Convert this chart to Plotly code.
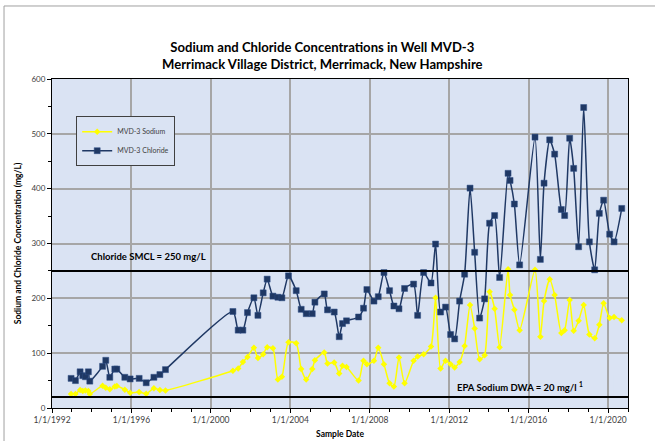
import plotly.graph_objects as go

# ---- data ----
sample_dates = [
    "1992-12-17", "1993-03-07", "1993-06-01", "1993-07-20", "1993-09-06", "1993-10-31", "1993-11-26",
    "1994-07-19", "1994-09-16", "1994-11-29", "1995-03-01", "1995-04-07", "1995-09-01", "1995-12-08",
    "1996-05-22", "1996-09-28", "1997-02-17", "1997-06-07", "1997-09-18",
    "2001-02-09", "2001-05-17", "2001-08-11", "2001-11-04", "2002-03-02", "2002-05-15", "2002-08-20",
    "2002-11-01", "2003-02-15", "2003-05-17", "2003-07-30", "2003-11-28", "2004-04-18", "2004-07-19",
    "2004-10-19", "2005-02-07", "2005-03-28", "2005-09-16", "2005-11-15", "2006-03-18", "2006-06-18",
    "2006-08-18", "2006-10-30", "2007-06-09", "2007-09-08", "2007-11-09", "2008-03-18", "2008-06-05",
    "2008-09-18", "2008-12-30", "2009-03-20", "2009-06-21", "2009-10-02", "2010-03-17", "2010-05-30",
    "2010-09-17", "2011-01-31", "2011-04-25", "2011-07-26", "2011-10-26", "2012-01-27", "2012-04-10",
    "2012-07-10", "2012-10-10", "2013-01-18", "2013-04-13", "2013-07-13", "2013-10-13", "2014-01-13",
    "2014-04-15", "2014-07-16", "2014-12-18", "2015-01-24", "2015-04-13", "2015-07-19", "2016-04-27",
    "2016-08-03", "2016-10-10", "2017-01-22", "2017-04-23", "2017-08-24", "2017-10-24", "2018-01-24",
    "2018-04-08", "2018-07-08", "2018-10-09", "2019-01-22", "2019-04-29", "2019-07-24", "2019-10-11",
    "2020-01-30", "2020-04-20", "2020-09-08",
]

chloride = [
    54, 50, 66, 59, 57, 66, 49,
    76, 87, 56, 71, 71, 56, 53,
    54, 46, 56, 61, 70,
    176, 142, 142, 174, 201, 169, 210,
    235, 204, 202, 201, 241, 214, 180,
    172, 172, 193, 208, 179, 175, 130,
    154, 159, 166, 182, 216, 195, 203,
    247, 214, 186, 181, 218, 226, 169,
    247, 228, 299, 175, 184, 134, 126,
    195, 244, 401, 284, 164, 199, 337,
    351, 238, 428, 415, 372, 261, 494,
    271, 410, 489, 463, 362, 351, 492,
    437, 294, 548, 303, 252, 355, 379,
    317, 303, 364,
]

sodium = [
    25.5, 25.5, 33, 31, 32, 31, 25.5,
    40.5, 37, 34, 39, 40, 33.5, 28,
    29, 26, 36, 33, 32,
    68, 72, 84, 93, 110, 91, 98,
    111, 109, 52, 57, 120, 118, 71,
    52, 71, 87, 101, 81, 83, 63,
    77, 75, 50, 86, 80, 86, 110,
    80, 45, 39, 92, 45, 86, 94,
    98, 112, 201, 72, 86, 80, 74,
    84, 113, 188, 145, 89, 96, 212,
    181, 111, 253, 206, 179, 142, 252,
    130, 195, 235, 206, 137, 142, 197,
    141, 159, 188, 134, 127, 152, 191,
    164, 166, 160,
]

x_tick_vals = ["1992-01-01", "1996-01-01", "2000-01-01", "2004-01-01",
               "2008-01-01", "2012-01-01", "2016-01-01", "2020-01-01"]
x_tick_text = ["1/1/1992", "1/1/1996", "1/1/2000", "1/1/2004",
               "1/1/2008", "1/1/2012", "1/1/2016", "1/1/2020"]
y_tick_vals = [0, 100, 200, 300, 400, 500, 600]

chloride_smcl = 250
sodium_dwa = 20

# ---- styling ----
FONT = "Lato"
PLOT_BG = "#DAE3F3"
GRID = "#A6A6A6"
NAVY = "#1F3864"
YELLOW = "#FFFF00"
TICK_COLOR = "#404040"

fig = go.Figure()

fig.add_trace(go.Scatter(
    x=sample_dates, y=sodium, name="MVD-3 Sodium", mode="lines+markers",
    legendgroup="na",
    line=dict(color=YELLOW, width=1.5, shape="spline", smoothing=0.6),
    marker=dict(symbol="diamond", size=5, color=YELLOW),
))
fig.add_trace(go.Scatter(
    x=sample_dates, y=chloride, name="MVD-3 Chloride", mode="lines+markers",
    legendgroup="cl",
    line=dict(color=NAVY, width=1.5, shape="spline", smoothing=0.6),
    marker=dict(symbol="square", size=6, color=NAVY, line=dict(color="#2E4F86", width=0.5)),
))

shapes = [
    # text-box backgrounds (cover gridlines, below traces)
    dict(type="rect", xref="paper", yref="y", x0=0.056, x1=0.28, y0=257, y1=297,
         fillcolor=PLOT_BG, line=dict(width=0), layer="between"),
    dict(type="rect", xref="paper", yref="y", x0=0.689, x1=0.974, y0=sodium_dwa, y1=60,
         fillcolor=PLOT_BG, line=dict(width=0), layer="between"),
    # regulatory lines
    dict(type="line", xref="paper", yref="y", x0=0, x1=1, y0=chloride_smcl, y1=chloride_smcl,
         line=dict(color="black", width=2)),
    dict(type="line", xref="paper", yref="y", x0=0, x1=1, y0=sodium_dwa, y1=sodium_dwa,
         line=dict(color="black", width=2)),
    # chart frame (top and left)
    dict(type="line", xref="paper", yref="paper", x0=-0.0833, x1=1.1, y0=1.2219, y1=1.2219,
         line=dict(color="#A0A0A0", width=1)),
    dict(type="line", xref="paper", yref="paper", x0=-0.0833, x1=-0.0833, y0=-0.2, y1=1.2219,
         line=dict(color="#A0A0A0", width=1)),
]

annotations = [
    dict(xref="paper", yref="paper", x=0.47, y=1.0714, xanchor="center", yanchor="middle",
         showarrow=False,
         text="<b>Sodium and Chloride Concentrations in Well MVD-3<br>"
              "Merrimack Village District, Merrimack, New Hampshire</b>",
         font=dict(family=FONT, size=13.1, color="black")),
    dict(xref="paper", yref="y", x=0.064, y=276, xanchor="left", yanchor="middle",
         showarrow=False, text="<b>Chloride SMCL = 250 mg/L</b>",
         font=dict(family=FONT, size=9.5, color="black")),
    dict(xref="paper", yref="y", x=0.70, y=40, xanchor="left", yanchor="middle",
         showarrow=False, text="<b>EPA Sodium DWA = 20 mg/l <sup>1</sup></b>",
         font=dict(family=FONT, size=9.5, color="black")),
]

fig.update_layout(
    width=655, height=441,
    margin=dict(l=52, r=27, t=79, b=33, autoexpand=False),
    paper_bgcolor="white",
    plot_bgcolor=PLOT_BG,
    font=dict(family=FONT, color=TICK_COLOR),
    showlegend=True,
    legend=dict(
        x=0.042, y=0.887, xanchor="left", yanchor="top",
        bgcolor=PLOT_BG, bordercolor="#404040", borderwidth=1,
        font=dict(family=FONT, size=7, color="#404040"),
        tracegroupgap=0, traceorder="grouped", itemwidth=30,
    ),
    shapes=shapes,
    annotations=annotations,
    xaxis=dict(
        type="date", range=["1992-01-01", "2021-01-01"], automargin=False,
        tickmode="array", tickvals=x_tick_vals, ticktext=x_tick_text,
        showgrid=True, gridcolor=GRID, gridwidth=1.5,
        showline=True, linecolor="black", linewidth=1, mirror=True,
        ticks="outside", ticklen=4, tickcolor="black",
        minor=dict(dtick="M12", tick0="1992-01-01", ticks="outside", ticklen=3,
                   tickcolor="black", showgrid=False),
        tickfont=dict(family=FONT, size=8.5, color=TICK_COLOR),
        title=dict(text="<b>Sample Date</b>", font=dict(family=FONT, size=8.5, color="black"),
                   standoff=6),
        zeroline=False,
    ),
    yaxis=dict(
        range=[0, 600], tickmode="array", tickvals=y_tick_vals, automargin=False,
        showgrid=True, gridcolor=GRID, gridwidth=1.5,
        showline=True, linecolor="black", linewidth=1, mirror=True,
        ticks="outside", ticklen=4, tickcolor="black",
        minor=dict(dtick=50, ticks="outside", ticklen=3, tickcolor="black", showgrid=False),
        tickfont=dict(family=FONT, size=8, color=TICK_COLOR),
        title=dict(text="<b>Sodium and Chloride Concentration (mg/L)</b>",
                   font=dict(family=FONT, size=8.5, color="black"), standoff=8),
        zeroline=False,
    ),
)

# remove the page's default 8px body margin so the figure sits at the window origin
fig.write_html("out.html", config={"displayModeBar": False},
               post_script="document.body.style.margin='0';")
